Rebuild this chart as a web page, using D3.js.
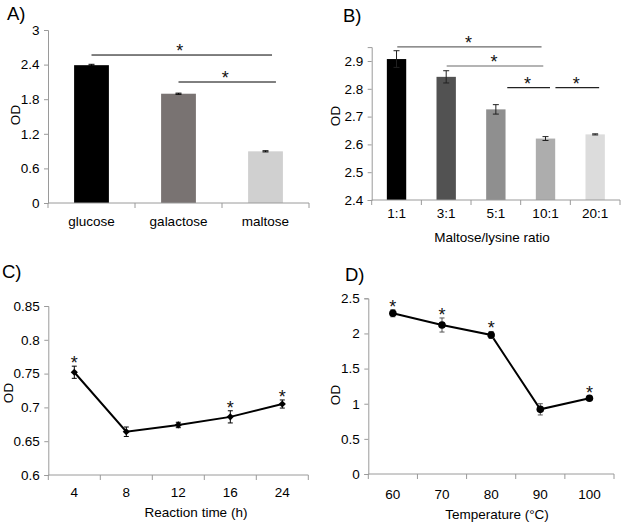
<!DOCTYPE html>
<html>
<head>
<meta charset="utf-8">
<script src="https://cdn.jsdelivr.net/npm/d3@7"></script>
<style>
  html, body { margin: 0; padding: 0; background: #fff; }
  svg { display: block; }
  text { font-family: "Liberation Sans", Arial, sans-serif; }
</style>
</head>
<body>
<svg id="chart" width="623" height="524"></svg>
<script>
// ---------- Data ----------
const sugarCats = ["glucose", "galactose", "maltose"];
const sugarOD = [2.39, 1.895, 0.896];
const sugarErr = [0.015, 0.01, 0.01];
const sugarTicks = [0, 0.6, 1.2, 1.8, 2.4, 3];
const sugarColors = ["#000000", "#797372", "#d0d0d0"];
const sugarBrackets = [
  { from: 0, to: 2.075, level: 2.566 },
  { from: 1, to: 2.12, level: 2.098 }
];

const ratioCats = ["1:1", "3:1", "5:1", "10:1", "20:1"];
const ratioOD = [2.907, 2.843, 2.726, 2.621, 2.636];
const ratioErr = [0.03, 0.022, 0.017, 0.007, 0.002];
const ratioTicks = [2.4, 2.5, 2.6, 2.7, 2.8, 2.9];
const ratioColors = ["#000000", "#525252", "#8f8f8f", "#adadad", "#dcdcdc"];
const ratioBrackets = [
  { from: 0.015, to: 2.92, level: 2.951 },
  { from: 1.01, to: 2.955, level: 2.882 },
  { from: 2.23, to: 3.09, level: 2.804 },
  { from: 3.2, to: 4.08, level: 2.804 }
];

const timeCats = ["4", "8", "12", "16", "24"];
const timeOD = [0.752, 0.664, 0.674, 0.686, 0.705];
const timeErr = [0.009, 0.007, 0.004, 0.009, 0.006];
const timeSig = [true, false, false, true, true];
const timeTicks = [0.6, 0.65, 0.7, 0.75, 0.8, 0.85];

const tempCats = ["60", "70", "80", "90", "100"];
const tempOD = [2.287, 2.12, 1.978, 0.92, 1.077];
const tempErr = [0.05, 0.1, 0.05, 0.08, 0.03];
const tempSig = [true, true, true, false, true];
const tempTicks = [0, 0.5, 1, 1.5, 2, 2.5];

// ---------- Helpers ----------
const svg = d3.select("#chart");
svg.append("rect").attr("width", 623).attr("height", 524).attr("fill", "#fff");
const AXIS_COLOR = "#9a9a9a";
const FS = 13.5;
const FONT = '"Liberation Sans", Arial, sans-serif';

function drawAxes(g, x, y, ticks, opts) {
  const [x0, x1] = x.range();
  const [yb, yt] = y.range();
  // y axis
  const ya = g.append("g").attr("transform", `translate(${x0},0)`)
    .call(d3.axisLeft(y).tickValues(ticks).tickFormat(d => String(d)).tickSize(4).tickPadding(4.5));
  ya.select(".domain").attr("stroke", AXIS_COLOR);
  ya.selectAll(".tick line").attr("stroke", AXIS_COLOR);
  ya.selectAll(".tick text").attr("fill", "#000").style("font-size", FS + "px").style("font-family", FONT);
  // x axis
  const xa = g.append("g").attr("transform", `translate(0,${yb})`)
    .call(d3.axisBottom(x).tickSize(0).tickPadding(opts.xPad));
  xa.select(".domain").remove();
  xa.selectAll(".tick text").attr("fill", "#000").style("font-size", FS + "px").style("font-family", FONT);
  xa.append("line").attr("x1", x0).attr("x2", x1).attr("y1", 0).attr("y2", 0)
    .attr("stroke", AXIS_COLOR);
  const n = x.domain().length;
  const step = x.step();
  d3.range(n + 1).forEach(i => {
    xa.append("line").attr("x1", x0 + i * step).attr("x2", x0 + i * step)
      .attr("y1", 0).attr("y2", 5).attr("stroke", AXIS_COLOR);
  });
  // y title
  g.append("text").attr("transform", `translate(${opts.yTitleX},${opts.yTitleY}) rotate(-90)`)
    .attr("text-anchor", "middle").attr("dy", "0.35em").style("font-size", FS + "px").text("OD");
  if (opts.xTitle) {
    g.append("text").attr("x", opts.xTitleX).attr("y", opts.xTitleY)
      .attr("text-anchor", "middle").style("font-size", FS + "px").text(opts.xTitle);
  }
  g.append("text").attr("x", opts.labelX).attr("y", opts.labelY)
    .style("font-size", "18.5px").text(opts.label);
}

function star(g, cx, cy) {
  g.append("text").attr("x", cx).attr("y", cy + 0.5 * 18)
    .attr("text-anchor", "middle").style("font-size", "18px").attr("fill", "#111").text("*");
}

function errBar(g, cx, yScale, v, e, cap, color, w) {
  g.append("line").attr("x1", cx).attr("x2", cx).attr("y1", yScale(v - e)).attr("y2", yScale(v + e))
    .attr("stroke", color).attr("stroke-width", w);
  [v - e, v + e].forEach(t => {
    g.append("line").attr("x1", cx - cap).attr("x2", cx + cap).attr("y1", yScale(t)).attr("y2", yScale(t))
      .attr("stroke", color).attr("stroke-width", w);
  });
}

// ---------- Panel A ----------
(function () {
  const g = svg.append("g");
  const x = d3.scaleBand().domain(sugarCats).range([48, 309]).paddingInner(0.6).paddingOuter(0.3);
  const y = d3.scaleLinear().domain([0, 3]).range([203, 30]);
  sugarCats.forEach((c, i) => {
    g.append("rect").attr("x", x(c)).attr("y", y(sugarOD[i])).attr("width", x.bandwidth())
      .attr("height", y(0) - y(sugarOD[i])).attr("fill", sugarColors[i]);
    errBar(g, x(c) + x.bandwidth() / 2, y, sugarOD[i], sugarErr[i], 3, "#000", 1);
  });
  drawAxes(g, x, y, sugarTicks, { xPad: 13.5, yTitleX: 15, yTitleY: 115, label: "A)", labelX: 7, labelY: 20 });
  const c0 = x(sugarCats[0]) + x.bandwidth() / 2;
  sugarBrackets.forEach(b => {
    const xa = c0 + b.from * x.step(), xb = c0 + b.to * x.step();
    g.append("line").attr("x1", xa).attr("x2", xb).attr("y1", y(b.level)).attr("y2", y(b.level))
      .attr("stroke", "#000").attr("stroke-width", 1);
    star(g, (xa + xb) / 2 - 2, y(b.level) - 7);
  });
})();

// ---------- Panel B ----------
(function () {
  const g = svg.append("g");
  const x = d3.scaleBand().domain(ratioCats).range([371.7, 620]).paddingInner(0.61).paddingOuter(0.305);
  const y = d3.scaleLinear().domain([2.4, 2.95]).range([200, 200 - 0.55 * 278]);
  ratioCats.forEach((c, i) => {
    g.append("rect").attr("x", x(c)).attr("y", y(ratioOD[i])).attr("width", x.bandwidth())
      .attr("height", y(2.4) - y(ratioOD[i])).attr("fill", ratioColors[i]);
    errBar(g, x(c) + x.bandwidth() / 2, y, ratioOD[i], ratioErr[i], 3, "#222", 1);
  });
  drawAxes(g, x, y, ratioTicks, {
    xPad: 8, yTitleX: 335, yTitleY: 116, xTitle: "Maltose/lysine ratio", xTitleX: 492, xTitleY: 241.5,
    label: "B)", labelX: 343, labelY: 22
  });
  const c0 = x(ratioCats[0]) + x.bandwidth() / 2;
  ratioBrackets.forEach((b, i) => {
    const xa = c0 + b.from * x.step(), xb = c0 + b.to * x.step();
    g.append("line").attr("x1", xa).attr("x2", xb).attr("y1", y(b.level)).attr("y2", y(b.level))
      .attr("stroke", i < 2 ? "#6a6a6a" : "#222").attr("stroke-width", 1.2);
    star(g, (xa + xb) / 2 - 1, y(b.level) - 7);
  });
})();

// ---------- Panel C ----------
(function () {
  const g = svg.append("g");
  const x = d3.scaleBand().domain(timeCats).range([48.3, 308.3]).paddingInner(0.6).paddingOuter(0.3);
  const y = d3.scaleLinear().domain([0.6, 0.85]).range([475, 306]);
  drawAxes(g, x, y, timeTicks, {
    xPad: 12, yTitleX: 8, yTitleY: 393, xTitle: "Reaction time (h)", xTitleX: 196, xTitleY: 517,
    label: "C)", labelX: 2, labelY: 278
  });
  const cx = c => x(c) + x.bandwidth() / 2;
  const line = d3.line().x((d, i) => cx(timeCats[i])).y(d => y(d));
  g.append("path").datum(timeOD).attr("d", line).attr("fill", "none").attr("stroke", "#000").attr("stroke-width", 2);
  timeCats.forEach((c, i) => {
    errBar(g, cx(c), y, timeOD[i], timeErr[i], 2.5, "#000", 1);
    g.append("path").attr("d", d3.symbol(d3.symbolSquare, 26)())
      .attr("transform", `translate(${cx(c)},${y(timeOD[i])}) rotate(45)`).attr("fill", "#000");
    if (timeSig[i]) star(g, cx(c), y(timeOD[i] + timeErr[i]) - 6);
  });
})();

// ---------- Panel D ----------
(function () {
  const g = svg.append("g");
  const x = d3.scaleBand().domain(tempCats).range([368.3, 614]).paddingInner(0.6).paddingOuter(0.3);
  const y = d3.scaleLinear().domain([0, 2.5]).range([474, 298.3]);
  drawAxes(g, x, y, tempTicks, {
    xPad: 15, yTitleX: 335, yTitleY: 395, xTitle: "Temperature (°C)", xTitleX: 497, xTitleY: 519,
    label: "D)", labelX: 345, labelY: 281
  });
  const cx = c => x(c) + x.bandwidth() / 2;
  const line = d3.line().x((d, i) => cx(tempCats[i])).y(d => y(d));
  g.append("path").datum(tempOD).attr("d", line).attr("fill", "none").attr("stroke", "#000").attr("stroke-width", 2);
  tempCats.forEach((c, i) => {
    errBar(g, cx(c), y, tempOD[i], tempErr[i], 2.5, "#555", 1);
    g.append("circle").attr("cx", cx(c)).attr("cy", y(tempOD[i])).attr("r", 3.8).attr("fill", "#000");
    if (tempSig[i]) star(g, cx(c), y(tempOD[i] + tempErr[i]) - 6);
  });
})();
</script>
</body>
</html>
